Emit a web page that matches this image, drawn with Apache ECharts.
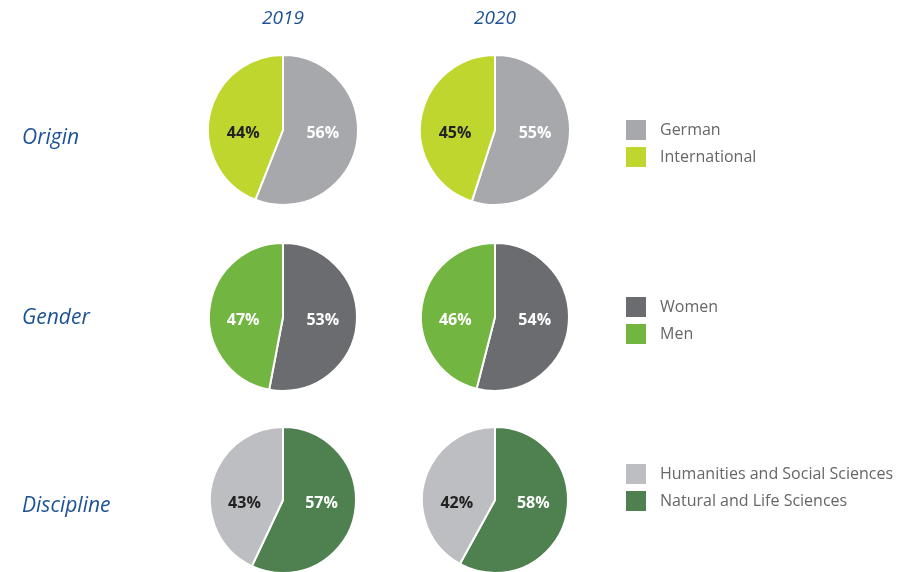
<!DOCTYPE html>
<html><head><meta charset="utf-8">
<script src="https://cdn.jsdelivr.net/npm/echarts@6/dist/echarts.min.js"></script>
<style>html,body{margin:0;padding:0;background:#fff}#c{width:922px;height:572px}</style>
</head><body><div id="c"></div>
<script>
const years = ['2019', '2020'];
const rowLabels = ['Origin', 'Gender', 'Discipline'];
const originNames = ['German', 'International'];
const origin2019 = [56, 44];
const origin2020 = [55, 45];
const genderNames = ['Women', 'Men'];
const gender2019 = [53, 47];
const gender2020 = [54, 46];
const disciplineNames = ['Natural and Life Sciences', 'Humanities and Social Sciences'];
const discipline2019 = [57, 43];
const discipline2020 = [58, 42];
const legendOrder = [
  ['German', 'International'],
  ['Women', 'Men'],
  ['Humanities and Social Sciences', 'Natural and Life Sciences']
];

const colors = {
  'German': '#a7a8ac', 'International': '#bfd62f',
  'Women': '#6b6c70', 'Men': '#72b641',
  'Humanities and Social Sciences': '#bdbec2', 'Natural and Life Sciences': '#4f8150'
};
const labelColors = {
  'German': '#ffffff', 'International': '#222222',
  'Women': '#ffffff', 'Men': '#ffffff',
  'Humanities and Social Sciences': '#222222', 'Natural and Life Sciences': '#ffffff'
};
const rows = [
  {names: originNames, vals: [origin2019, origin2020], cy: 130, r: 75, labelTop: 128},
  {names: genderNames, vals: [gender2019, gender2020], cy: 317, r: 74, labelTop: 308},
  {names: disciplineNames, vals: [discipline2019, discipline2020], cy: 500, r: 73, labelTop: 496}
];
const cxs = [283, 495];
const series = [];
rows.forEach((row, ri) => {
  row.vals.forEach((vals, yi) => {
    series.push({
      type: 'pie', name: rowLabels[ri] + ' ' + years[yi],
      center: [cxs[yi], row.cy], radius: [0, row.r],
      startAngle: 90, clockwise: true, animation: false,
      itemStyle: {borderColor: '#fff', borderWidth: 2},
      emphasis: {disabled: true},
      label: {show: true, position: 'inside', formatter: '{c}%',
        fontFamily: 'Open Sans', fontWeight: 'bold', fontSize: 16},
      labelLayout: () => ({y: row.cy + 3, verticalAlign: 'middle'}),
      labelLine: {show: false},
      data: row.names.map((n, i) => ({name: n, value: vals[i],
        itemStyle: {color: colors[n]}, label: {color: labelColors[n]}}))
    });
  });
});
const legendTops = [118, 295, 462];
const legend = legendOrder.map((d, i) => ({
  data: d, orient: 'vertical', left: 624, top: legendTops[i], padding: 0,
  icon: 'rect', itemWidth: 22, itemHeight: 22, itemGap: 3,
  selectedMode: false,
  textStyle: {color: '#666', fontSize: 16, fontFamily: 'Open Sans', padding: [0, 0, 0, 8]}
}));
const title = [
  ...years.map((y, i) => ({text: y, left: cxs[i], top: 9, textAlign: 'center', padding: 0,
    textStyle: {color: '#1d5296', fontSize: 19, fontStyle: 'italic', fontWeight: 'normal', fontFamily: 'Open Sans'}})),
  ...rowLabels.map((t, i) => ({text: t, left: 22, top: rows[i].labelTop, padding: 0,
    textStyle: {color: '#1d5296', fontSize: 21, fontStyle: 'italic', fontWeight: 'normal', fontFamily: 'Open Sans'}}))
];
const chart = echarts.init(document.getElementById('c'));
chart.setOption({animation: false, title, legend, series});
</script></body></html>
